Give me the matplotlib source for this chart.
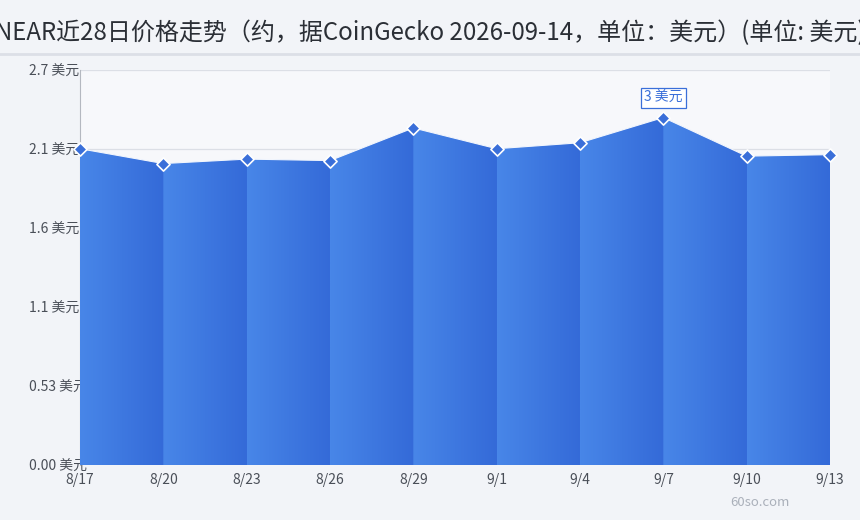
import numpy as np
import matplotlib.pyplot as plt
from matplotlib.colors import LinearSegmentedColormap
from matplotlib.patches import Polygon

plt.rcParams['font.family'] = ['Noto Sans CJK SC', 'DejaVu Sans']

# data
dates = ['8/17', '8/20', '8/23', '8/26', '8/29', '9/1', '9/4', '9/7', '9/10', '9/13']
days = [0, 3, 6, 9, 12, 15, 18, 21, 24, 27]
prices = [2.13, 2.03, 2.06, 2.05, 2.27, 2.13, 2.17, 2.34, 2.08, 2.09]
yticks = [0.0, 0.532, 1.064, 1.596, 2.128, 2.66]
ytick_labels = ['0.00 美元', '0.53 美元', '1.1 美元', '1.6 美元', '2.1 美元', '2.7 美元']
title = 'NEAR近28日价格走势（约，据CoinGecko 2026-09-14，单位：美元）(单位: 美元)'

fig = plt.figure(figsize=(8.6, 5.2), dpi=100, facecolor='#f2f4f8')
ax = fig.add_axes([80 / 860, 55 / 520, 750 / 860, 395 / 520])
ax.set_facecolor('#f7f8fb')

ax.set_xlim(days[0], days[-1])
ax.set_ylim(0, 2.66)

cmap = LinearSegmentedColormap.from_list('seg', ['#4886e8', '#346ad8'])
grad = np.linspace(0, 1, 64).reshape(1, -1)
for i in range(len(days) - 1):
    x0, x1 = days[i], days[i + 1]
    y0, y1 = prices[i], prices[i + 1]
    # small overlap on the right so no seam shows between segments
    ext = 0.06 if i < len(days) - 2 else 0
    y1e = y1 + (y1 - y0) * ext / (x1 - x0)
    poly = Polygon([(x0, 0), (x0, y0), (x1 + ext, y1e), (x1 + ext, 0)], closed=True,
                   facecolor='none', edgecolor='none')
    ax.add_patch(poly)
    im = ax.imshow(grad, cmap=cmap, aspect='auto', extent=[x0, x1 + ext, 0, max(y0, y1e)],
                   origin='lower', zorder=3 + i * 0.01, interpolation='bilinear')
    im.set_clip_path(poly)

ax.plot(days, prices, color='#f2f6fd', lw=0.8, zorder=4)
ax.scatter(days, prices, marker='D', s=45, color='#3a6fd9', edgecolor='white',
           linewidth=1.2, zorder=5, clip_on=False)

imax = int(np.argmax(prices))
ax.annotate('3 美元', (days[imax], prices[imax]), xytext=(0, 14), textcoords='offset points',
            ha='center', va='center', fontsize=10, color='#3a6fd9', zorder=6,
            bbox=dict(boxstyle='square,pad=0.22', fc='white', ec='#3a6fd9', lw=0.9))

ax.set_yticks(yticks)
ax.set_yticklabels(ytick_labels)
for lab in ax.get_yticklabels():
    lab.set_horizontalalignment('left')
ax.tick_params(axis='y', length=0, pad=37, labelsize=10, labelcolor='#4a4f58')
ax.set_xticks(days)
ax.set_xticklabels(dates)
ax.tick_params(axis='x', length=0, pad=6, labelsize=10, labelcolor='#4a4f58')
ax.grid(axis='y', color='#dcdfe6', lw=0.9)

for s in ['top', 'right', 'bottom']:
    ax.spines[s].set_visible(False)
ax.spines['left'].set_color('#b4b8c0')
ax.spines['left'].set_linewidth(0.8)

# the reference title is wider than the canvas and runs off both edges
fig.text(0.5, 1 - 33 / 520, title, ha='center', va='center', fontsize=17.3, color='#2b2f36')
fig.add_artist(plt.Line2D([0, 1], [1 - 54 / 520, 1 - 54 / 520], color='#dcdfe7', lw=2))
fig.text(760 / 860, 1 - 503 / 520, '60so.com', ha='center', va='center', fontsize=9.5,
         color='#aab0ba')

fig.savefig('out.png', dpi=100, facecolor=fig.get_facecolor())
